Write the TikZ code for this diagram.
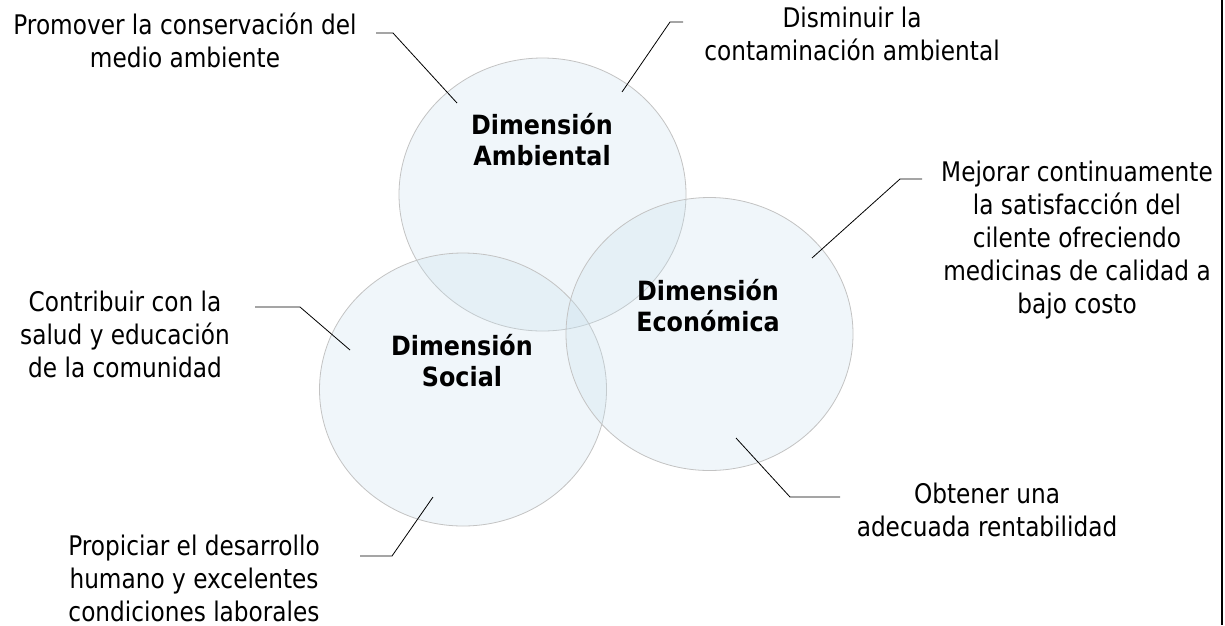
\documentclass[tikz,border=0pt]{standalone}
\usepackage{fontspec}
\setmainfont{DejaVu Sans}[FakeStretch=0.86]
\newfontfamily\lblfont{DejaVu Sans}[FakeStretch=0.90]
\usetikzlibrary{shapes.geometric}
\definecolor{circfill}{RGB}{200,225,238}
\definecolor{circedge}{RGB}{195,195,195}
\begin{document}
\begin{tikzpicture}[x=1pt,y=-1pt,
  dimcirc/.style={ellipse, draw=circedge, line width=0.8pt, fill=circfill, fill opacity=0.27,
    minimum width=287pt, minimum height=273pt, inner sep=0pt},
  txt/.style={align=center, font=\fontsize{27}{33}\selectfont, inner sep=0pt, text=black},
  lbl/.style={align=center, font=\lblfont\bfseries\fontsize{26.5}{31}\selectfont, inner sep=0pt, text=black},
  conn/.style={draw=black, line width=0.8pt}]
\useasboundingbox (0,0) rectangle (1225,625);
\fill[white] (0,0) rectangle (1225,625);

% circles
\node[dimcirc] (amb) at (542.5,194.5) {};
\node[dimcirc] (soc) at (463,389.5) {};
\node[dimcirc] (eco) at (709.5,334) {};

% labels
\node[lbl] (lamb) at (542,140) {Dimensión\\Ambiental};
\node[lbl] (leco) at (708,306) {Dimensión\\Económica};
\node[lbl] (lsoc) at (462,361) {Dimensión\\Social};

% texts
\node[txt] (tprom) at (185,40) {Promover la conservación del\\medio ambiente};
\node[txt] (tdism) at (852,34) {Disminuir la\\contaminación ambiental};
\node[txt] (tmej) at (1077,240) {Mejorar continuamente\\la satisfacción del\\cilente ofreciendo\\medicinas de calidad a\\bajo costo};
\node[txt] (tcont) at (125,334) {Contribuir con la\\salud y educación\\de la comunidad};
\node[txt] (tprop) at (194,578) {Propiciar el desarrollo\\humano y excelentes\\condiciones laborales};
\node[txt] (tobt) at (987,510) {Obtener una\\adecuada rentabilidad};

% connector points
\coordinate (p1) at (376,33); \coordinate (p2) at (393,33); \coordinate (p3) at (457,103);
\coordinate (d1) at (683,22); \coordinate (d2) at (670,22); \coordinate (d3) at (622,92);
\coordinate (m1) at (922,179); \coordinate (m2) at (900,179); \coordinate (m3) at (812,258);
\coordinate (c1) at (255,307); \coordinate (c2) at (300,307); \coordinate (c3) at (350,350);
\coordinate (s1) at (360,556); \coordinate (s2) at (392,556); \coordinate (s3) at (433,497);
\coordinate (o1) at (736,438); \coordinate (o2) at (790,497); \coordinate (o3) at (840,497);

\draw[conn] (p1) -- (p2) -- (p3);
\draw[conn] (d1) -- (d2) -- (d3);
\draw[conn] (m1) -- (m2) -- (m3);
\draw[conn] (c1) -- (c2) -- (c3);
\draw[conn] (s1) -- (s2) -- (s3);
\draw[conn] (o1) -- (o2) -- (o3);

% right border
\coordinate (bt) at (1221.8,0); \coordinate (bb) at (1221.8,625);
\draw[line width=2.6pt] (bt) -- (bb);
\end{tikzpicture}
\end{document}
